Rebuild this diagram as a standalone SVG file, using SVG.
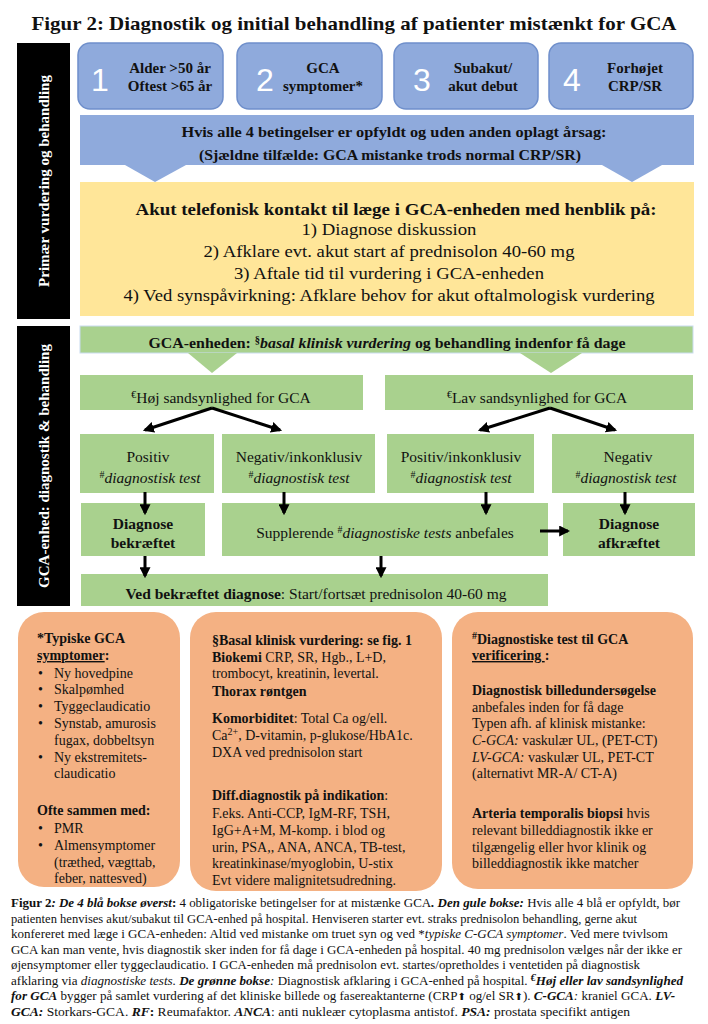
<svg xmlns="http://www.w3.org/2000/svg" width="708" height="1024" viewBox="0 0 708 1024">
<defs>
<style>
text{font-family:"Liberation Serif","Times New Roman",serif;fill:#111;}
.b{font-weight:bold;}
.i{font-style:italic;}
.bi{font-weight:bold;font-style:italic;}
.side{fill:#000;}
.sidet{fill:#fff;font-weight:bold;font-size:15px;}
.blue{fill:#8FAADC;stroke:#6F8FCB;stroke-width:1.5;}
.bluef{fill:#8FAADC;}
.num{font-family:"Liberation Sans",Arial,sans-serif;fill:#fff;font-size:32px;}
.bt{font-weight:bold;font-size:15px;text-anchor:middle;}
.yel{fill:#FFE699;}
.grn{fill:#A9D18E;}
.gt{font-size:15.5px;text-anchor:middle;}
.org{fill:#F4B183;}
.ot{font-size:14px;}
.cap{font-size:13px;}
.arr{stroke:#000;stroke-width:3;fill:none;marker-end:url(#ah);}
.sup{font-size:10px;}
</style>
<marker id="ah" viewBox="0 0 10 10" refX="8" refY="5" markerWidth="11" markerHeight="11" markerUnits="userSpaceOnUse" orient="auto">
<path d="M0,0 L10,5 L0,10 z" fill="#000"/>
</marker>
</defs>
<rect width="708" height="1024" fill="#fff"/>

<g id="title">
<text x="354" y="30" text-anchor="middle" class="b" font-size="19" textLength="645" lengthAdjust="spacingAndGlyphs">Figur 2: Diagnostik og initial behandling af patienter mistænkt for GCA</text>
</g>

<g id="side1">
<rect class="side" x="17" y="43" width="53" height="276"/>
<text class="sidet" transform="translate(49,181) rotate(-90)" text-anchor="middle">Primær vurdering og behandling</text>
</g>
<g id="side2">
<rect class="side" x="17" y="326" width="53" height="280"/>
<text class="sidet" transform="translate(49,466) rotate(-90)" text-anchor="middle">GCA-enhed:  diagnostik &amp; behandling</text>
</g>

<g id="blue1">
<rect class="blue" x="78" y="43" width="145" height="66" rx="12"/>
<text class="num" x="100" y="91" text-anchor="middle">1</text>
<text class="bt" x="170" y="73">Alder &gt;50 år</text>
<text class="bt" x="170" y="91">Oftest &gt;65 år</text>
</g>
<g id="blue2">
<rect class="blue" x="237" y="43" width="145" height="66" rx="12"/>
<text class="num" x="265" y="91" text-anchor="middle">2</text>
<text class="bt" x="323" y="73">GCA</text>
<text class="bt" x="323" y="91">symptomer*</text>
</g>
<g id="blue3">
<rect class="blue" x="394" y="43" width="144" height="66" rx="12"/>
<text class="num" x="422" y="91" text-anchor="middle">3</text>
<text class="bt" x="483" y="73">Subakut/</text>
<text class="bt" x="483" y="91">akut debut</text>
</g>
<g id="blue4">
<rect class="blue" x="549" y="43" width="144" height="66" rx="12"/>
<text class="num" x="572" y="91" text-anchor="middle">4</text>
<text class="bt" x="635" y="73">Forhøjet</text>
<text class="bt" x="635" y="91">CRP/SR</text>
</g>

<g id="banner">
<rect class="bluef" x="80" y="115" width="614" height="50"/>
<path class="bluef" d="M125,165 L186,165 L155,182 z"/>
<path class="bluef" d="M602,165 L662,165 L632,182 z"/>
<text class="bt" x="394" y="137" textLength="425" lengthAdjust="spacingAndGlyphs">Hvis alle 4 betingelser er opfyldt og uden anden oplagt årsag:</text>
<text class="bt" x="390" y="160" textLength="382" lengthAdjust="spacingAndGlyphs">(Sjældne tilfælde: GCA mistanke trods normal CRP/SR)</text>
</g>

<g id="yellow">
<rect class="yel" x="80" y="182" width="614" height="134"/>
<text x="396" y="215" text-anchor="middle" class="b" font-size="17" textLength="521" lengthAdjust="spacingAndGlyphs">Akut telefonisk kontakt til læge i GCA-enheden med henblik på:</text>
<text x="389" y="235" text-anchor="middle" font-size="17" textLength="175" lengthAdjust="spacingAndGlyphs">1)  Diagnose diskussion</text>
<text x="389" y="257" text-anchor="middle" font-size="17" textLength="371" lengthAdjust="spacingAndGlyphs">2)  Afklare evt. akut start af prednisolon 40-60 mg</text>
<text x="389" y="279" text-anchor="middle" font-size="17" textLength="310" lengthAdjust="spacingAndGlyphs">3)  Aftale tid til vurdering i GCA-enheden</text>
<text x="389" y="301" text-anchor="middle" font-size="17" textLength="531" lengthAdjust="spacingAndGlyphs">4)  Ved synspåvirkning: Afklare behov for akut oftalmologisk vurdering</text>
</g>

<g id="green-top">
<rect class="grn" x="80" y="326" width="613" height="27" stroke="#C9DCEF" stroke-width="1"/>
<path class="grn" d="M188,353 L237,353 L212,373 z"/>
<path class="grn" d="M520,353 L582,353 L551,373 z"/>
<text x="387" y="348" text-anchor="middle" class="b" font-size="15" textLength="477" lengthAdjust="spacingAndGlyphs">GCA-enheden:  <tspan class="sup" dy="-5">§</tspan><tspan class="bi" dy="5">basal klinisk vurdering</tspan> og behandling indenfor få dage</text>
</g>

<g id="hoej">
<rect class="grn" x="80" y="375" width="283" height="35"/>
<text class="gt" x="221" y="403"><tspan class="sup" dy="-5">€</tspan><tspan dy="5">Høj sandsynlighed for GCA</tspan></text>
</g>
<g id="lav">
<rect class="grn" x="385" y="375" width="308" height="35"/>
<text class="gt" x="537" y="403"><tspan class="sup" dy="-5">€</tspan><tspan dy="5">Lav sandsynlighed for GCA</tspan></text>
</g>

<g id="pos1">
<rect class="grn" x="80" y="434" width="134" height="59"/>
<text class="gt" x="148" y="462">Positiv</text>
<text class="gt" x="150" y="483"><tspan class="sup" dy="-5">#</tspan><tspan class="i" dy="5">diagnostisk test</tspan></text>
</g>
<g id="neg1">
<rect class="grn" x="222" y="434" width="153" height="59"/>
<text class="gt" x="299" y="462">Negativ/inkonklusiv</text>
<text class="gt" x="299" y="483"><tspan class="sup" dy="-5">#</tspan><tspan class="i" dy="5">diagnostisk test</tspan></text>
</g>
<g id="pos2">
<rect class="grn" x="387" y="434" width="147" height="59"/>
<text class="gt" x="461" y="462">Positiv/inkonklusiv</text>
<text class="gt" x="461" y="483"><tspan class="sup" dy="-5">#</tspan><tspan class="i" dy="5">diagnostisk test</tspan></text>
</g>
<g id="neg2">
<rect class="grn" x="552" y="434" width="142" height="59"/>
<text class="gt" x="628" y="462">Negativ</text>
<text class="gt" x="626" y="483"><tspan class="sup" dy="-5">#</tspan><tspan class="i" dy="5">diagnostisk test</tspan></text>
</g>

<g id="bekraeftet">
<rect class="grn" x="81" y="503" width="124" height="53"/>
<text class="gt b" x="143" y="529">Diagnose</text>
<text class="gt b" x="143" y="548">bekræftet</text>
</g>
<g id="supplerende">
<rect class="grn" x="222" y="503" width="326" height="53"/>
<text class="gt" x="385" y="538"><tspan>Supplerende </tspan><tspan class="sup" dy="-5">#</tspan><tspan class="i" dy="5">diagnostiske tests</tspan><tspan> anbefales</tspan></text>
</g>
<g id="afkraeftet">
<rect class="grn" x="563" y="503" width="132" height="53"/>
<text class="gt b" x="629" y="529">Diagnose</text>
<text class="gt b" x="629" y="548">afkræftet</text>
</g>
<g id="start">
<rect class="grn" x="81" y="574" width="467" height="32"/>
<text class="gt" x="316" y="599"><tspan class="b">Ved bekræftet diagnose</tspan>: Start/fortsæt prednisolon 40-60 mg</text>
</g>

<g id="connectors">
<path class="arr" d="M212,408 L145,430"/>
<path class="arr" d="M212,408 L280,430"/>
<path class="arr" d="M550,408 L480,430"/>
<path class="arr" d="M550,408 L615,430"/>
<path class="arr" d="M145,492 L145,513"/>
<path class="arr" d="M284,492 L284,513"/>
<path class="arr" d="M486,492 L486,513"/>
<path class="arr" d="M625,492 L625,513"/>
<path class="arr" d="M540,531 L568,531"/>
<path class="arr" d="M145,556 L145,576"/>
<path class="arr" d="M381,556 L381,576"/>
</g>

<g id="box-symptomer">
<rect class="org" x="18" y="612" width="162" height="275" rx="26"/>
<text class="ot b" x="37" y="643">*Typiske GCA</text>
<text class="ot b" x="37" y="660"><tspan text-decoration="underline">symptomer</tspan>:</text>
<g class="ot">
<text x="38" y="678">•</text><text x="54" y="678">Ny hovedpine</text>
<text x="38" y="694">•</text><text x="54" y="694">Skalpømhed</text>
<text x="38" y="711">•</text><text x="54" y="711">Tyggeclaudicatio</text>
<text x="38" y="728">•</text><text x="54" y="728">Synstab, amurosis</text>
<text x="54" y="745">fugax, dobbeltsyn</text>
<text x="38" y="762">•</text><text x="54" y="762">Ny ekstremitets-</text>
<text x="54" y="778">claudicatio</text>
<text x="37" y="815" class="b">Ofte sammen med:</text>
<text x="38" y="833">•</text><text x="54" y="833">PMR</text>
<text x="38" y="850">•</text><text x="54" y="850">Almensymptomer</text>
<text x="54" y="867">(træthed, vægttab,</text>
<text x="54" y="883">feber, nattesved)</text>
</g>
</g>

<g id="box-basal">
<rect class="org" x="190" y="612" width="252" height="279" rx="26"/>
<g class="ot">
<text x="212" y="645" class="b">§Basal klinisk vurdering: se fig. 1</text>
<text x="212" y="662"><tspan class="b">Biokemi</tspan> CRP, SR, Hgb., L+D,</text>
<text x="212" y="678">trombocyt, kreatinin, levertal.</text>
<text x="212" y="696" class="b">Thorax røntgen</text>
<text x="212" y="723"><tspan class="b">Komorbiditet</tspan>: Total Ca og/ell.</text>
<text x="212" y="740">Ca<tspan class="sup" dy="-5">2+</tspan><tspan dy="5">, D-vitamin, p-glukose/HbA1c.</tspan></text>
<text x="212" y="757">DXA ved prednisolon start</text>
<text x="212" y="800"><tspan class="b">Diff.diagnostik på indikation</tspan>:</text>
<text x="212" y="818">F.eks. Anti-CCP, IgM-RF, TSH,</text>
<text x="212" y="835">IgG+A+M, M-komp. i blod og</text>
<text x="212" y="852">urin, PSA,, ANA, ANCA, TB-test,</text>
<text x="212" y="868">kreatinkinase/myoglobin, U-stix</text>
<text x="212" y="885">Evt videre malignitetsudredning.</text>
</g>
</g>

<g id="box-diagnostiske">
<rect class="org" x="452" y="612" width="241" height="277" rx="26"/>
<g class="ot">
<text x="472" y="644" class="b"><tspan class="sup" dy="-5">#</tspan><tspan dy="5">Diagnostiske test til GCA</tspan></text>
<text x="472" y="660" class="b"><tspan text-decoration="underline">verificering </tspan>:</text>
<text x="472" y="695" class="b">Diagnostisk billedundersøgelse</text>
<text x="472" y="712">anbefales inden for få dage</text>
<text x="472" y="728">Typen afh. af klinisk mistanke:</text>
<text x="472" y="745"><tspan class="i">C-GCA:</tspan> vaskulær UL, (PET-CT)</text>
<text x="472" y="762"><tspan class="i">LV-GCA:</tspan> vaskulær UL, PET-CT</text>
<text x="472" y="778">(alternativt  MR-A/ CT-A)</text>
<text x="472" y="818"><tspan class="b">Arteria temporalis biopsi</tspan> hvis</text>
<text x="472" y="835">relevant billeddiagnostik ikke er</text>
<text x="472" y="852">tilgængelig eller hvor klinik og</text>
<text x="472" y="868">billeddiagnostik ikke matcher</text>
</g>
</g>

<g id="caption" class="cap">
<text x="11" y="907" textLength="669" lengthAdjust="spacingAndGlyphs"><tspan class="b">Figur 2</tspan><tspan class="bi">: De 4 blå bokse øverst</tspan><tspan class="b">:</tspan> 4 obligatoriske betingelser for at mistænke GCA<tspan class="bi">. Den gule bokse:</tspan> Hvis alle 4 blå er opfyldt, bør</text>
<text x="11" y="923" textLength="626" lengthAdjust="spacingAndGlyphs">patienten henvises akut/subakut til GCA-enhed på hospital. Henviseren starter evt. straks prednisolon behandling, gerne akut</text>
<text x="11" y="938" textLength="657" lengthAdjust="spacingAndGlyphs">konfereret med læge i GCA-enheden: Altid ved mistanke om truet syn og ved *<tspan class="i">typiske C-GCA symptomer</tspan>. Ved mere tvivlsom</text>
<text x="11" y="954" textLength="671" lengthAdjust="spacingAndGlyphs">GCA kan man vente, hvis diagnostik sker inden for få dage i GCA-enheden på hospital. 40 mg prednisolon vælges når der ikke er</text>
<text x="11" y="969" textLength="629" lengthAdjust="spacingAndGlyphs">øjensymptomer eller tyggeclaudicatio. I GCA-enheden må prednisolon evt. startes/opretholdes i ventetiden på diagnostisk</text>
<text x="11" y="985" textLength="672" lengthAdjust="spacingAndGlyphs">afklaring via <tspan class="i">diagnostiske tests.</tspan> <tspan class="bi">De grønne bokse</tspan><tspan class="i">:</tspan> Diagnostisk afklaring i GCA-enhed på hospital. <tspan class="bi sup" dy="-4">€</tspan><tspan class="bi" dy="4">Høj eller lav  sandsynlighed</tspan></text>
<text x="11" y="1000" textLength="664" lengthAdjust="spacingAndGlyphs"><tspan class="bi">for GCA</tspan> bygger på samlet vurdering af det kliniske billede og fasereaktanterne (CRP<tspan font-family="DejaVu Sans" font-size="10">⬆</tspan> og/el SR<tspan font-family="DejaVu Sans" font-size="10">⬆</tspan>). <tspan class="bi">C-GCA</tspan><tspan class="i">:</tspan> kraniel GCA. <tspan class="bi">LV-</tspan></text>
<text x="11" y="1016" textLength="619" lengthAdjust="spacingAndGlyphs"><tspan class="bi">GCA:</tspan> Storkars-GCA. <tspan class="bi">RF</tspan><tspan class="b">:</tspan> Reumafaktor.  <tspan class="bi">ANCA</tspan>: anti nukleær cytoplasma antistof. <tspan class="bi">PSA:</tspan> prostata specifikt antigen</text>
</g>
</svg>
